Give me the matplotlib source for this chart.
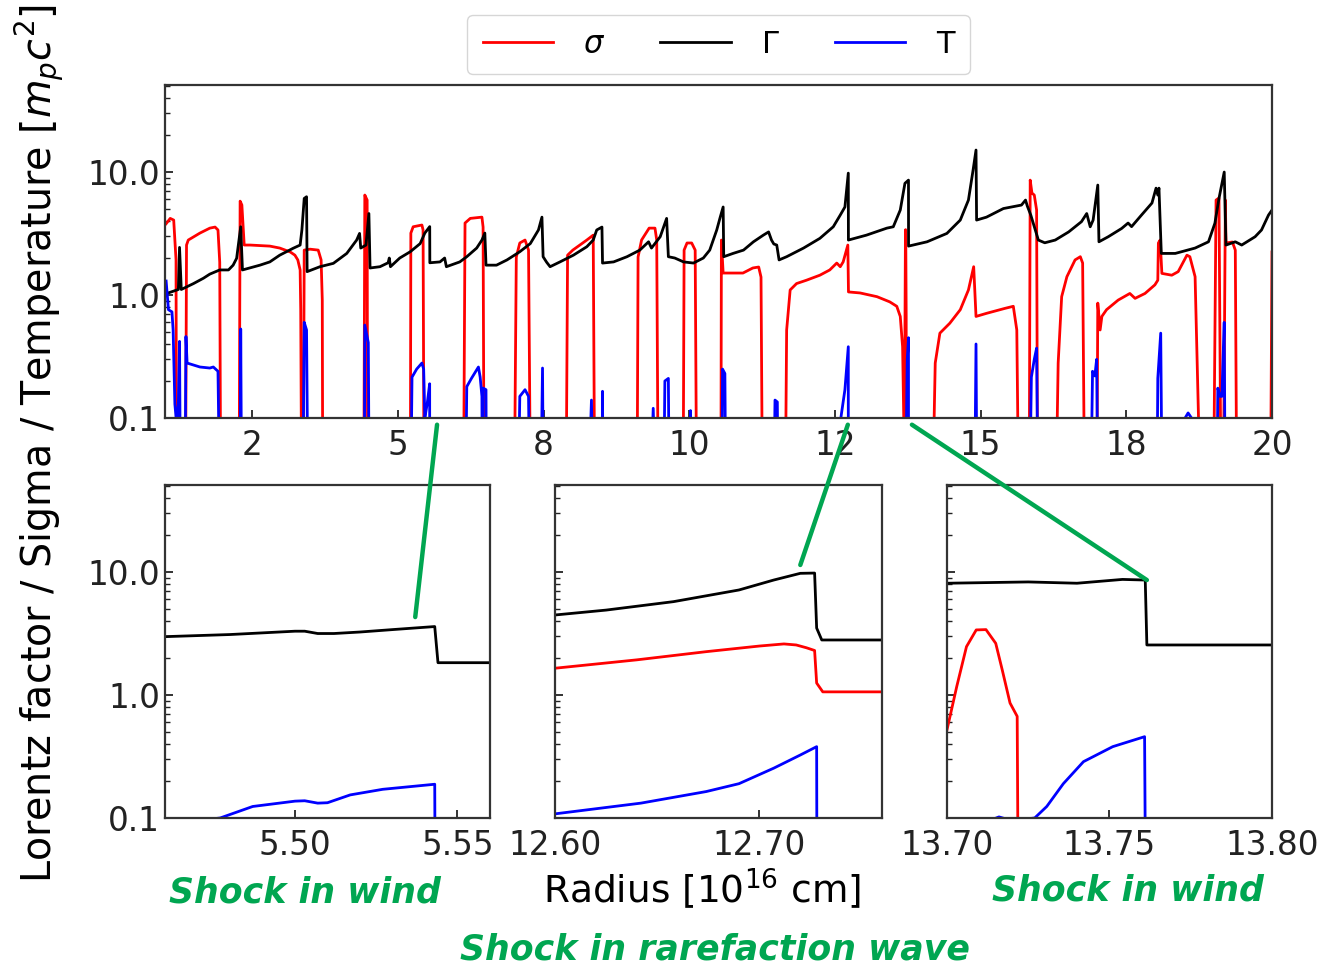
import matplotlib.pyplot as plt
from matplotlib.patches import ConnectionPatch

# ---- top panel: whole run (radius in 1e16 cm) ----
gamma_r = [1.03, 1.23, 1.25, 1.28, 1.49, 1.66, 1.77, 1.94, 2.09, 2.17,
           2.23, 2.30, 2.33, 2.63, 2.80, 2.97, 3.20, 3.32, 3.35, 3.39,
           3.43, 3.44, 3.66, 3.89, 4.12, 4.29, 4.34, 4.36, 4.45, 4.50,
           4.52, 4.69, 4.83, 4.85, 4.87, 5.03, 5.21, 5.38, 5.46, 5.544,
           5.546, 5.72, 5.80, 5.83, 6.06, 6.18, 6.35, 6.44, 6.49, 6.51,
           6.69, 6.87, 7.09, 7.27, 7.41, 7.47, 7.49, 7.55, 7.61, 7.78,
           8.01, 8.24, 8.35, 8.41, 8.50, 8.51, 8.70, 8.93, 9.15, 9.30,
           9.35, 9.50, 9.61, 9.64, 9.75, 9.90, 10.07, 10.24, 10.35, 10.47,
           10.53, 10.58, 10.59, 10.75, 10.93, 11.10, 11.27, 11.36, 11.41, 11.45,
           11.50, 11.54, 11.67, 11.96, 12.24, 12.47, 12.59, 12.67, 12.728, 12.73,
           13.04, 13.39, 13.50, 13.62, 13.70, 13.761, 13.762, 14.08, 14.42, 14.65,
           14.79, 14.87, 14.92, 14.93, 15.10, 15.39, 15.53, 15.70, 15.77, 15.80,
           15.86, 15.99, 16.10, 16.28, 16.51, 16.73, 16.82, 16.88, 16.93, 17.01,
           17.03, 17.19, 17.42, 17.53, 17.59, 17.76, 17.94, 18.01, 18.04, 18.06,
           18.10, 18.34, 18.68, 18.91, 19.02, 19.09, 19.18, 19.21, 19.37, 19.48,
           19.71, 19.82, 19.94, 20.0]
gamma_v = [1.03, 1.11, 2.44, 1.11, 1.24, 1.37, 1.48, 1.60, 1.60, 1.75,
           1.99, 3.59, 1.60, 1.75, 1.86, 2.11, 2.40, 2.55, 3.38, 6.1,
           6.3, 1.55, 1.70, 1.81, 2.18, 2.80, 3.17, 2.41, 2.55, 4.6,
           1.66, 1.70, 1.83, 2.0, 1.70, 2.0, 2.25, 2.62, 3.19, 3.6,
           1.83, 1.86, 2.0, 1.70, 1.86, 2.05, 2.41, 2.80, 3.19, 1.75,
           1.75, 1.93, 2.25, 2.62, 3.38, 4.3, 2.05, 1.85, 1.70, 1.86,
           2.11, 2.47, 2.80, 3.38, 3.57, 1.82, 1.86, 2.05, 2.32, 2.71,
           2.41, 2.98, 4.2, 2.05, 2.0, 1.86, 1.82, 2.0, 2.32, 3.38,
           4.3, 5.2, 2.05, 2.18, 2.32, 2.71, 3.07, 3.26, 2.80, 2.6,
           2.55, 1.93, 2.05, 2.41, 2.89, 3.59, 4.47, 5.2, 9.8, 2.80,
           3.07, 3.5, 3.59, 4.91, 8.1, 8.6, 2.5, 2.71, 3.17, 4.07,
           5.92, 10.4, 15.1, 4.07, 4.3, 5.05, 5.2, 5.39, 5.92, 5.3,
           4.47, 2.80, 2.66, 2.80, 3.26, 3.95, 4.6, 3.59, 4.07, 7.84,
           2.71, 2.98, 3.48, 3.85, 3.6, 4.47, 5.6, 7.4, 6.5, 7.4,
           2.18, 2.18, 2.41, 2.71, 3.84, 6.1, 10.0, 2.55, 2.71, 2.55,
           2.98, 3.38, 4.47, 4.91]

# 0.01 = below the plotted range
sigma_r = [1.02, 1.09, 1.15, 1.19, 1.20, 1.35, 1.37, 1.40, 1.60, 1.77,
           1.86, 1.91, 1.94, 1.96, 2.27, 2.29, 2.32, 2.36, 2.46, 2.80,
           2.97, 3.15, 3.23, 3.28, 3.32, 3.33, 3.35, 3.37, 3.39, 3.49,
           3.63, 3.68, 3.70, 3.71, 4.41, 4.43, 4.47, 4.48, 5.21, 5.22,
           5.26, 5.41, 5.43, 5.45, 6.12, 6.15, 6.24, 6.44, 6.46, 6.48,
           6.99, 7.03, 7.09, 7.18, 7.24, 7.28, 7.88, 7.91, 8.00, 8.24,
           8.35, 8.38, 9.10, 9.12, 9.18, 9.31, 9.41, 9.44, 9.47, 9.89,
           9.91, 9.96, 10.04, 10.10, 10.13, 10.54, 10.55, 10.58, 10.75, 10.92,
           11.09, 11.19, 11.23, 11.26, 11.64, 11.67, 11.73, 11.84, 12.01, 12.24,
           12.41, 12.53, 12.59, 12.64, 12.72, 12.728, 12.731, 12.93, 13.22, 13.44,
           13.56, 13.62, 13.66, 13.69, 13.70, 13.703, 13.706, 13.709, 13.712, 13.715,
           13.717, 13.7216, 13.722, 14.16, 14.22, 14.30, 14.47, 14.65, 14.79, 14.88,
           14.92, 15.10, 15.42, 15.56, 15.62, 15.66, 15.83, 15.85, 15.88, 15.92,
           15.96, 15.98, 16.28, 16.33, 16.39, 16.48, 16.62, 16.71, 16.75, 16.79,
           16.99, 17.01, 17.05, 17.08, 17.16, 17.36, 17.51, 17.56, 17.65, 17.82,
           17.99, 18.04, 18.05, 18.08, 18.11, 18.28, 18.39, 18.54, 18.59, 18.68,
           18.79, 18.99, 19.04, 19.09, 19.13, 19.16, 19.20, 19.21, 19.32, 19.37,
           19.40, 19.97, 20.0]
sigma_v = [3.8, 4.2, 4.07, 1.93, 0.01, 0.01, 2.55, 2.80, 3.19, 3.5,
           3.57, 3.38, 1.85, 0.01, 0.01, 5.8, 5.4, 2.55, 2.55, 2.5,
           2.41, 2.24, 2.11, 1.93, 1.60, 0.76, 0.01, 0.01, 2.32, 2.36,
           2.32, 1.93, 0.91, 0.01, 0.01, 6.5, 5.92, 0.01, 0.01, 3.19,
           3.59, 3.71, 3.38, 0.01, 0.01, 3.85, 4.2, 4.3, 3.57, 0.01,
           0.01, 2.04, 2.65, 2.80, 2.32, 0.01, 0.01, 2.11, 2.32, 2.80,
           3.07, 0.01, 0.01, 2.04, 2.80, 3.5, 3.5, 2.80, 0.01, 0.01,
           2.32, 2.65, 2.65, 2.32, 0.01, 0.01, 2.80, 1.51, 1.51, 1.51,
           1.66, 1.69, 1.40, 0.01, 0.01, 0.52, 1.10, 1.24, 1.32, 1.45,
           1.60, 1.82, 1.70, 1.86, 2.55, 1.25, 1.06, 1.04, 0.97, 0.88,
           0.81, 0.67, 0.38, 0.05, 0.52, 1.17, 2.47, 3.38, 3.4, 2.63,
           1.6, 0.67, 0.01, 0.01, 0.28, 0.49, 0.59, 0.76, 1.10, 1.70,
           0.67, 0.71, 0.78, 0.81, 0.52, 0.01, 0.01, 8.6, 6.75, 6.5,
           4.91, 0.01, 0.01, 0.28, 0.97, 1.41, 1.93, 2.05, 1.82, 0.01,
           0.01, 0.86, 0.52, 0.67, 0.76, 0.91, 1.0, 1.03, 0.94, 1.03,
           1.21, 1.32, 2.65, 2.80, 1.50, 1.45, 1.55, 2.11, 2.05, 1.41,
           0.01, 0.01, 5.92, 6.15, 0.01, 0.01, 5.92, 2.65, 2.7, 2.32,
           0.01, 0.01, 2.24]

temp_r = [1.02, 1.06, 1.12, 1.14, 1.17, 1.20, 1.23, 1.25, 1.27, 1.34,
          1.36, 1.38, 1.60, 1.77, 1.83, 1.91, 1.95, 2.29, 2.30, 2.32,
          3.36, 3.39, 3.43, 3.46, 4.42, 4.43, 4.49, 4.51, 5.21, 5.24,
          5.32, 5.41, 5.44, 5.46, 5.50, 5.543, 5.544, 6.15, 6.18, 6.26,
          6.38, 6.41, 6.44, 6.45, 6.46, 6.51, 6.52, 7.05, 7.09, 7.18,
          7.24, 7.27, 7.44, 7.48, 7.50, 8.24, 8.32, 8.36, 8.50, 8.51,
          8.52, 9.30, 9.38, 9.44, 9.55, 9.58, 9.64, 9.66, 10.01, 10.02,
          10.03, 10.55, 10.57, 10.61, 10.63, 11.44, 11.47, 11.51, 11.53, 12.58,
          12.60, 12.67, 12.728, 12.7285, 13.72, 13.727, 13.74, 13.761, 13.7615, 14.89,
          14.92, 14.94, 15.83, 15.87, 15.92, 15.96, 15.99, 16.88, 16.92, 16.96,
          16.99, 17.02, 18.02, 18.04, 18.09, 18.12, 18.48, 18.56, 18.65, 19.05,
          19.07, 19.11, 19.14, 19.18, 19.20]
temp_v = [1.3, 0.76, 0.73, 0.52, 0.13, 0.09, 0.13, 0.42, 0.01, 0.01,
          0.46, 0.28, 0.26, 0.255, 0.26, 0.24, 0.01, 0.01, 0.53, 0.01,
          0.01, 0.6, 0.52, 0.01, 0.01, 0.57, 0.41, 0.01, 0.01, 0.215,
          0.25, 0.28, 0.25, 0.1, 0.13, 0.19, 0.01, 0.01, 0.18, 0.21,
          0.26, 0.215, 0.15, 0.01, 0.175, 0.17, 0.01, 0.01, 0.15, 0.17,
          0.15, 0.01, 0.01, 0.255, 0.01, 0.01, 0.14, 0.01, 0.01, 0.165,
          0.01, 0.01, 0.12, 0.01, 0.01, 0.20, 0.21, 0.01, 0.01, 0.115,
          0.01, 0.01, 0.25, 0.23, 0.01, 0.01, 0.14, 0.135, 0.01, 0.01,
          0.1, 0.17, 0.38, 0.01, 0.01, 0.1, 0.3, 0.45, 0.01, 0.01,
          0.4, 0.01, 0.01, 0.215, 0.30, 0.37, 0.01, 0.01, 0.24, 0.22,
          0.30, 0.01, 0.01, 0.21, 0.49, 0.01, 0.095, 0.11, 0.095, 0.01,
          0.175, 0.15, 0.15, 0.6, 0.01]

top_ticks = [2.5, 5.0, 7.5, 10.0, 12.5, 15.0, 17.5, 20.0]
top_ticklabels = ['2', '5', '8', '10', '12', '15', '18', '20']

# ---- zoom 1: shock in wind near 5.54 ----
z1_gamma_r = [5.46, 5.48, 5.50, 5.503, 5.507, 5.512, 5.52, 5.53, 5.543, 5.544, 5.56]
z1_gamma_v = [2.98, 3.1, 3.3, 3.3, 3.16, 3.16, 3.25, 3.4, 3.6, 1.83, 1.83]
z1_temp_r = [5.47, 5.477, 5.487, 5.50, 5.503, 5.507, 5.51, 5.517, 5.527, 5.543, 5.5432]
z1_temp_v = [0.095, 0.1, 0.124, 0.137, 0.138, 0.132, 0.133, 0.154, 0.171, 0.188, 0.01]

# ---- zoom 2: shock in rarefaction wave near 12.73 ----
z2_gamma_r = [12.60, 12.625, 12.658, 12.69, 12.707, 12.72, 12.727, 12.728, 12.7305, 12.76]
z2_gamma_v = [4.47, 4.9, 5.74, 7.14, 8.6, 9.75, 9.8, 3.5, 2.8, 2.8]
z2_sigma_r = [12.60, 12.64, 12.674, 12.70, 12.712, 12.718, 12.723, 12.727, 12.728, 12.731, 12.76]
z2_sigma_v = [1.65, 1.93, 2.25, 2.5, 2.6, 2.55, 2.42, 2.3, 1.25, 1.06, 1.06]
z2_temp_r = [12.60, 12.642, 12.674, 12.69, 12.707, 12.72, 12.728, 12.7282]
z2_temp_v = [0.108, 0.132, 0.164, 0.19, 0.254, 0.325, 0.38, 0.01]

# ---- zoom 3: shock in wind near 13.76 ----
z3_gamma_r = [13.70, 13.725, 13.74, 13.754, 13.761, 13.7615, 13.80]
z3_gamma_v = [8.1, 8.3, 8.1, 8.7, 8.6, 2.55, 2.55]
z3_sigma_r = [13.70, 13.703, 13.706, 13.709, 13.712, 13.715, 13.717, 13.7194, 13.7216, 13.722]
z3_sigma_v = [0.52, 1.17, 2.47, 3.38, 3.4, 2.63, 1.6, 0.86, 0.67, 0.01]
z3_temp_r = [13.713, 13.716, 13.72, 13.727, 13.7307, 13.7358, 13.742, 13.751, 13.7608, 13.7612]
z3_temp_v = [0.095, 0.102, 0.095, 0.1, 0.124, 0.19, 0.287, 0.38, 0.458, 0.01]

green = '#00a651'
ylim = (0.1, 51)


def style(ax, labels=True):
    ax.set_yscale('log')
    ax.set_ylim(*ylim)
    ax.set_yticks([0.1, 1.0, 10.0])
    ax.set_yticklabels(['0.1', '1.0', '10.0'] if labels else [])
    ax.tick_params(which='both', direction='in', labelsize=23.5, colors='#222222')
    ax.tick_params(which='major', length=6, width=1.3)
    ax.tick_params(which='minor', length=3.5, width=1)
    ax.tick_params(axis='x', pad=8)
    for s in ax.spines.values():
        s.set_linewidth(1.6)
        s.set_color('#333333')


fig = plt.figure(figsize=(13.25, 9.74), dpi=100)

top = fig.add_axes([0.1245, 0.5708, 0.8355, 0.3419])
l1, = top.plot(sigma_r, sigma_v, color='red', lw=2)
l2, = top.plot(gamma_r, gamma_v, color='black', lw=2)
l3, = top.plot(temp_r, temp_v, color='blue', lw=2)
top.set_xlim(1, 20)
style(top)
top.set_xticks(top_ticks)
top.set_xticklabels(top_ticklabels)
top.legend([l1, l2, l3], [r'$\sigma$', r'$\Gamma$', 'T'], loc='lower center',
           bbox_to_anchor=(0.5, 1.0), ncol=3, fontsize=22, handlelength=2.3,
           handletextpad=1.0, columnspacing=1.8, borderpad=0.5,
           borderaxespad=0.35)

ax1 = fig.add_axes([0.1245, 0.1602, 0.2453, 0.3419])
ax1.plot(z1_gamma_r, z1_gamma_v, color='black', lw=2)
ax1.plot(z1_temp_r, z1_temp_v, color='blue', lw=2)
ax1.set_xlim(5.46, 5.56)
style(ax1)
ax1.set_xticks([5.50, 5.55])
ax1.set_xticklabels(['5.50', '5.55'])

ax2 = fig.add_axes([0.4189, 0.1602, 0.2468, 0.3419])
ax2.plot(z2_sigma_r, z2_sigma_v, color='red', lw=2)
ax2.plot(z2_gamma_r, z2_gamma_v, color='black', lw=2)
ax2.plot(z2_temp_r, z2_temp_v, color='blue', lw=2)
ax2.set_xlim(12.60, 12.76)
style(ax2, labels=False)
ax2.set_xticks([12.60, 12.70])
ax2.set_xticklabels(['12.60', '12.70'])

ax3 = fig.add_axes([0.7147, 0.1602, 0.2453, 0.3419])
ax3.plot(z3_sigma_r, z3_sigma_v, color='red', lw=2)
ax3.plot(z3_gamma_r, z3_gamma_v, color='black', lw=2)
ax3.plot(z3_temp_r, z3_temp_v, color='blue', lw=2)
ax3.set_xlim(13.70, 13.80)
style(ax3, labels=False)
ax3.set_xticks([13.70, 13.75, 13.80])
ax3.set_xticklabels(['13.70', '13.75', '13.80'])

# green connectors from the overview to each zoom
for xa, ax, xb, yb in [(5.67, ax1, 5.537, 4.3), (12.72, ax2, 12.72, 11.4),
                       (13.82, ax3, 13.7615, 8.6)]:
    con = ConnectionPatch(xyA=(xa, -0.02), coordsA=top.get_xaxis_transform(),
                          xyB=(xb, yb), coordsB=ax.transData,
                          color=green, lw=3.2)
    fig.add_artist(con)

fig.text(0.030, 0.545, r'Lorentz factor / Sigma / Temperature [$m_pc^2$]',
         rotation=90, ha='center', va='center', fontsize=28.5)
fig.text(0.53, 0.088, r'Radius [$10^{16}$ cm]', ha='center', va='center', fontsize=27)

fig.text(0.230, 0.084, 'Shock in wind', color=green, fontsize=25,
         fontweight='bold', style='italic', ha='center', va='center')
fig.text(0.851, 0.086, 'Shock in wind', color=green, fontsize=25,
         fontweight='bold', style='italic', ha='center', va='center')
fig.text(0.540, 0.025, 'Shock in rarefaction wave', color=green, fontsize=25,
         fontweight='bold', style='italic', ha='center', va='center')

fig.savefig('out.png', dpi=100)
